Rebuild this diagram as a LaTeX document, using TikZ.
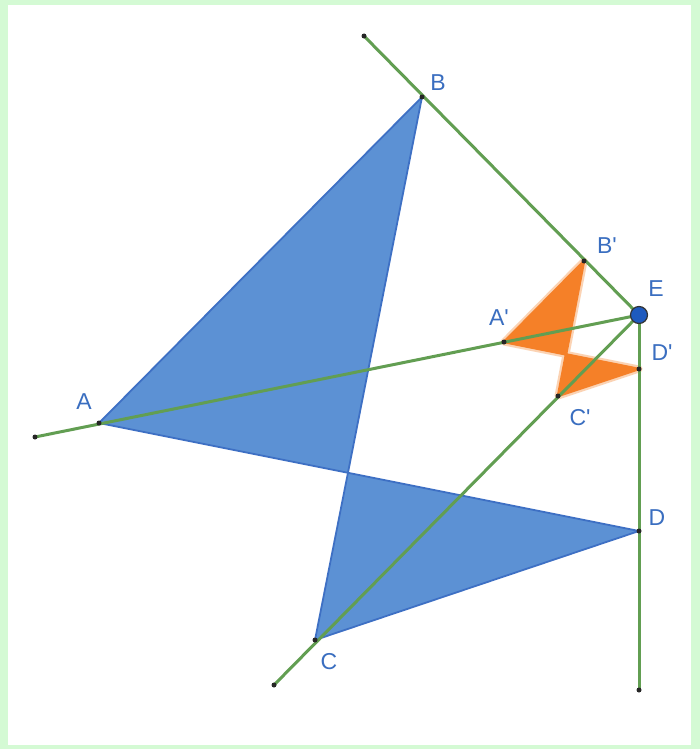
\documentclass[tikz,border=0pt]{standalone}
\usepackage{fontspec}
\setmainfont{Liberation Sans}
\begin{document}
\begin{tikzpicture}[x=1pt,y=-1pt,
  lbl/.style={text=labelblue, font=\fontsize{23}{26}\selectfont, inner sep=0pt},
  gline/.style={draw=linegreen, line width=3pt},
  pt/.style={circle, fill=black!85, inner sep=0pt, minimum size=5pt},
  bigfig/.style={fill=figblue, draw=edgeblue, line width=1.8pt, line join=round},
  smallfig/.style={fill=figorange, draw=figorange, line width=2.5pt, line join=round}]
\definecolor{bggreen}{RGB}{212,250,212}
\definecolor{labelblue}{RGB}{58,110,192}
\definecolor{linegreen}{RGB}{98,158,82}
\definecolor{figblue}{RGB}{92,145,212}
\definecolor{edgeblue}{RGB}{62,112,196}
\definecolor{figorange}{RGB}{245,128,40}
\definecolor{eblue}{RGB}{30,90,190}
\useasboundingbox (0,0) rectangle (700,749);
\fill[bggreen] (0,0) rectangle (700,749);
\fill[white] (8,5) rectangle (691,745);
% points
\coordinate (E) at (639,315);
\coordinate (A) at (99,423);
\coordinate (B) at (422,97);
\coordinate (C) at (315,640);
\coordinate (D) at (639,531);
\coordinate (A1) at (504,342);
\coordinate (B1) at (584,261);
\coordinate (C1) at (558,396);
\coordinate (D1) at (639,369);
\coordinate (Aend) at (35,437);
\coordinate (Bend) at (364,36);
\coordinate (Cend) at (274,685);
\coordinate (Dend) at (639,690);
% figures
\path[bigfig] (A) -- (B) -- (C) -- (D) -- cycle;
\path[draw=figorange!35, line width=7pt, line join=round] (A1) -- (B1) -- (C1) -- (D1) -- cycle;
\path[smallfig] (A1) -- (B1) -- (C1) -- (D1) -- cycle;
% lines
\draw[gline] (Aend) -- (E);
\draw[gline] (Bend) -- (E);
\draw[gline] (Cend) -- (E);
\draw[gline] (Dend) -- (E);
% point markers
\foreach \p in {A,B,C,D,A1,B1,C1,D1,Aend,Bend,Cend,Dend}
  \node[pt] at (\p) {};
\node[circle, fill=eblue, draw=black!80, line width=1.2pt, minimum size=17pt, inner sep=0pt] (Enode) at (E) {};
% labels
\node[lbl] (lA) at (84,402) {A};
\node[lbl] (lB) at (438,83) {B};
\node[lbl] (lC) at (329,662) {C};
\node[lbl] (lD) at (657,518) {D};
\node[lbl] (lE) at (656,289) {E};
\node[lbl] (lA1) at (499,318) {A\textquotesingle};
\node[lbl] (lB1) at (607,246) {B\textquotesingle};
\node[lbl] (lC1) at (580,418) {C\textquotesingle};
\node[lbl] (lD1) at (662,353) {D\textquotesingle};
\end{tikzpicture}
\end{document}
